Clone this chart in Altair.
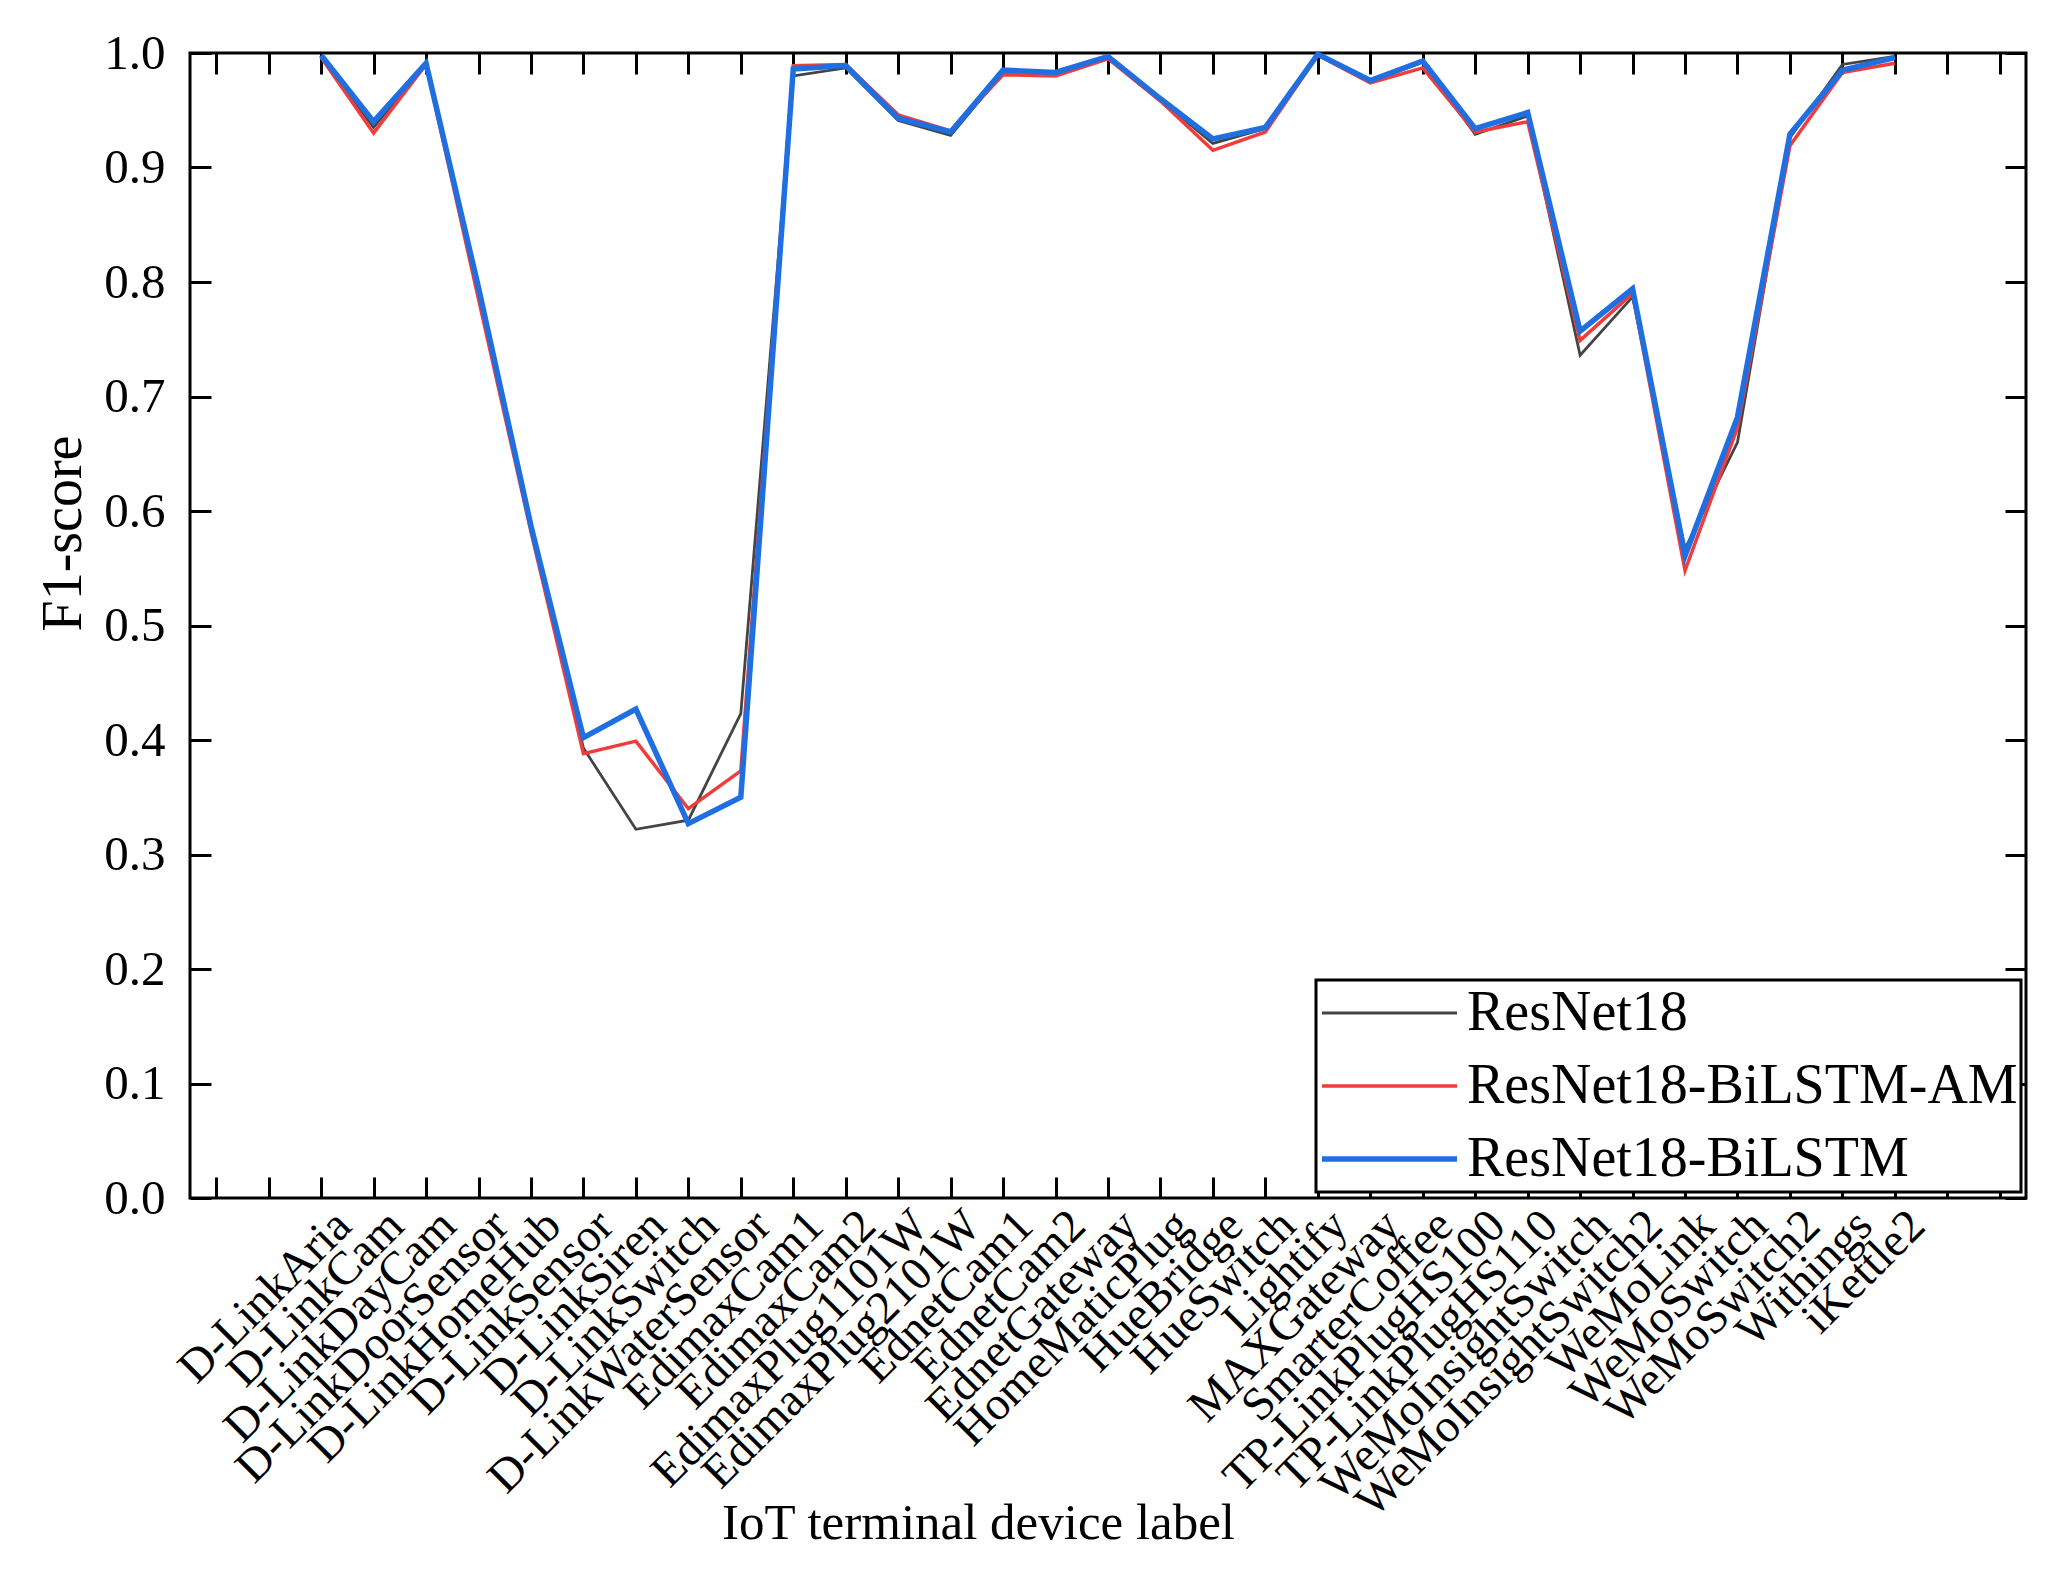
import json
import altair as alt
import pandas as pd

devices = [
    "D-LinkAria", "D-LinkCam", "D-LinkDayCam", "D-LinkDoorSensor", "D-LinkHomeHub",
    "D-LinkSensor", "D-LinkSiren", "D-LinkSwitch", "D-LinkWaterSensor", "EdimaxCam1",
    "EdimaxCam2", "EdimaxPlug1101W", "EdimaxPlug2101W", "EdnetCam1", "EdnetCam2",
    "EdnetGateway", "HomeMaticPlug", "HueBridge", "HueSwitch", "Lightify",
    "MAXGateway", "SmarterCoffee", "TP-LinkPlugHS100", "TP-LinkPlugHS110",
    "WeMoInsightSwitch", "WeMoInsightSwitch2", "WeMoLink", "WeMoSwitch",
    "WeMoSwitch2", "Withings", "iKettle2",
]

resnet18 = [
    0.997, 0.935, 0.991, 0.790, 0.585, 0.393, 0.322, 0.330, 0.423, 0.980,
    0.987, 0.941, 0.928, 0.983, 0.984, 0.997, 0.959, 0.921, 0.934, 0.998,
    0.975, 0.992, 0.929, 0.945, 0.736, 0.787, 0.567, 0.660, 0.926, 0.990, 0.997,
]
resnet18_bilstm_am = [
    0.996, 0.930, 0.990, 0.785, 0.582, 0.388, 0.399, 0.340, 0.373, 0.989,
    0.990, 0.946, 0.932, 0.981, 0.980, 0.995, 0.958, 0.915, 0.931, 0.998,
    0.974, 0.987, 0.931, 0.940, 0.749, 0.790, 0.548, 0.673, 0.919, 0.983, 0.991,
]
resnet18_bilstm = [
    0.998, 0.940, 0.991, 0.795, 0.587, 0.402, 0.427, 0.327, 0.350, 0.986,
    0.989, 0.943, 0.931, 0.985, 0.983, 0.997, 0.960, 0.925, 0.935, 0.999,
    0.976, 0.993, 0.934, 0.948, 0.757, 0.794, 0.561, 0.682, 0.929, 0.985, 0.996,
]

# tick slots on the x axis (two empty slots at each end, as in the figure)
tick_labels = ["", ""] + devices + ["", ""]
y_ticks = [0.0, 0.1, 0.2, 0.3, 0.4, 0.5, 0.6, 0.7, 0.8, 0.9, 1.0]

models = ["ResNet18", "ResNet18-BiLSTM-AM", "ResNet18-BiLSTM"]
series = [resnet18, resnet18_bilstm_am, resnet18_bilstm]
colors = ["#444444", "#f23c3c", "#1f6fe0"]
widths = [2.8, 3.5, 5.5]

rows = []
for m, vals in zip(models, series):
    for d, v in zip(devices, vals):
        rows.append({"model": m, "device": d, "pos": tick_labels.index(d) + 1, "f1": v})
df = pd.DataFrame(rows)

W, H = 1836, 1145
FONT = "Liberation Serif"
TICK = 21

xvals = list(range(1, len(tick_labels) + 1))
xscale = alt.Scale(domain=[0.5, len(tick_labels) + 0.5], nice=False, zero=False)
yscale = alt.Scale(domain=[0, 1], nice=False, zero=False)
label_expr = json.dumps(tick_labels) + "[datum.value - 1]"

main_x = alt.Axis(
    orient="bottom", values=xvals, labelExpr=label_expr, labelAngle=-45,
    labelAlign="right", labelBaseline="middle", labelPadding=20, labelOffset=22,
    labelFont=FONT, labelFontSize=47, labelColor="black", labelOverlap=False,
    labelFlush=False, labelLimit=1000, ticks=False, tickSize=0, domain=False,
    grid=False, title="IoT terminal device label", titleFont=FONT,
    titleFontSize=51, titleFontWeight="normal", titleColor="black",
    titleX=788, titleY=340, titleAlign="center", titleBaseline="alphabetic",
)
main_y = alt.Axis(
    orient="left", values=y_ticks, format=".1f", labelFont=FONT,
    labelFontSize=49, labelColor="black", labelPadding=25, labelFlush=False,
    labelOverlap=False, ticks=False, tickSize=0, domain=False, grid=False,
    title="F1-score", titleFont=FONT, titleFontSize=56,
    titleFontWeight="normal", titleColor="black", titleX=-110, titleY=480,
    titleAlign="center", titleBaseline="alphabetic", titleAngle=-90,
)


def tick_axis(orient, values, offset):
    return alt.Axis(
        orient=orient, values=values, offset=offset, labels=False, ticks=True,
        tickSize=TICK, tickWidth=3, tickColor="black", domain=False,
        grid=False, title=None,
    )


base = alt.Chart(df)

# inward ticks: bottom+left edges
ticks_bl = base.mark_point(opacity=0).encode(
    x=alt.X("pos:Q", scale=xscale, axis=tick_axis("top", xvals, -H)),
    y=alt.Y("f1:Q", scale=yscale, axis=tick_axis("right", y_ticks, -W)),
)
# inward ticks: top+right edges
ticks_tr = base.mark_point(opacity=0).encode(
    x=alt.X("pos:Q", scale=xscale, axis=tick_axis("bottom", xvals, -H)),
    y=alt.Y("f1:Q", scale=yscale, axis=tick_axis("left", y_ticks, -W)),
)

leg = alt.Legend(
    title=None, orient="none", legendX=1126, legendY=927, symbolType="stroke",
    symbolSize=18225, labelFont=FONT, labelFontSize=56, labelColor="black",
    labelOffset=7, rowPadding=13, padding=3, strokeColor="black",
    fillColor="white", clipHeight=60, labelLimit=1000,
)

color_enc = alt.Color("model:N", sort=models,
                      scale=alt.Scale(domain=models, range=colors), legend=leg)
width_enc = alt.StrokeWidth("model:N", sort=models,
                            scale=alt.Scale(type="ordinal", domain=models, range=widths),
                            legend=leg)

line_layers = []
for i, m in enumerate(models):
    layer = alt.Chart(df[df["model"] == m]).mark_line(strokeJoin="miter").encode(
        x=alt.X("pos:Q", scale=xscale, axis=main_x if i == 0 else None),
        y=alt.Y("f1:Q", scale=yscale, axis=main_y if i == 0 else None),
        color=color_enc,
        strokeWidth=width_enc,
    )
    line_layers.append(layer)

chart = (
    alt.layer(ticks_bl, ticks_tr, *line_layers)
    .resolve_axis(x="independent", y="independent")
    .properties(
        width=W, height=H,
        autosize=alt.AutoSizeParams(type="none"),
        padding={"left": 190, "top": 53, "right": 33, "bottom": 379},
        background="white",
    )
    .configure_view(stroke="black", strokeWidth=3)
    .configure_legend(strokeWidth=3)
)

chart.save("out.html", embed_options={"renderer": "svg", "actions": False})
